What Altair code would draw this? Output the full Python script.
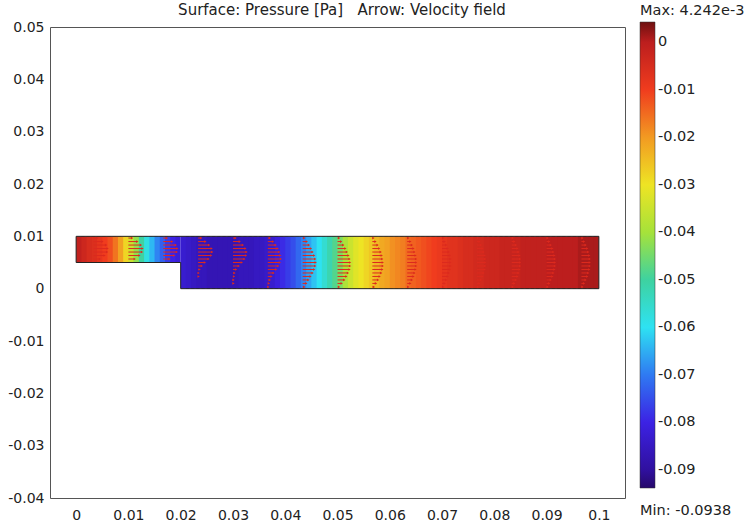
import altair as alt
import pandas as pd

FONT = "DejaVu Sans"
title_text = "Surface: Pressure [Pa]\u00a0\u00a0 Arrow: Velocity field"
max_label = "Max: 4.242e-3"
min_label = "Min: -0.0938"

# axis ticks
x_ticks = [0, 0.01, 0.02, 0.03, 0.04, 0.05, 0.06, 0.07, 0.08, 0.09, 0.1]
y_ticks = [-0.04, -0.03, -0.02, -0.01, 0, 0.01, 0.02, 0.03, 0.04, 0.05]

# colour scale (pressure, Pa) -> rainbow colours
color_stops = [-0.0938, -0.09, -0.08, -0.07, -0.06, -0.05, -0.04, -0.03, -0.02, -0.01, 0.0, 0.004242]
color_range = ["#26086a", "#30109f", "#3c22e4", "#2f7af2", "#2ee2f2", "#3ed2a0",
               "#a6e23a", "#eee424", "#f29a22", "#f03c1e", "#bc1e1e", "#6e1010"]
legend_values = [0, -0.01, -0.02, -0.03, -0.04, -0.05, -0.06, -0.07, -0.08, -0.09]

col_w = 0.001
# pressure along the inlet channel (x = 0 .. 0.02, columns 0.001 wide)
inlet_p = [-0.001, -0.003, -0.005, -0.006, -0.008, -0.010, -0.012, -0.016, -0.021, -0.028,
           -0.035, -0.042, -0.050, -0.058, -0.064, -0.069, -0.073, -0.077, -0.080, -0.082]
# pressure along the main channel (x = 0.02 .. 0.1, columns 0.001 wide)
main_p = [-0.083, -0.084, -0.085, -0.086, -0.086, -0.087, -0.087, -0.087, -0.087, -0.087,
          -0.087, -0.086, -0.086, -0.086, -0.085, -0.085, -0.084, -0.083, -0.081, -0.079,
          -0.077, -0.075, -0.072, -0.069, -0.066, -0.063, -0.060, -0.056, -0.052, -0.048,
          -0.044, -0.039, -0.035, -0.032, -0.030, -0.028, -0.026, -0.024, -0.022, -0.021,
          -0.019, -0.018, -0.017, -0.015, -0.014, -0.013, -0.012, -0.011, -0.010, -0.009,
          -0.008, -0.007, -0.007, -0.006, -0.005, -0.005, -0.004, -0.004, -0.003, -0.003,
          -0.003, -0.002, -0.002, -0.002, -0.002, -0.001, -0.001, -0.001, -0.001, -0.001,
          0.000, 0.000, 0.000, 0.000, 0.000, 0.000, 0.001, 0.001, 0.001, 0.001]

# geometry outline (backward-facing step)
outline_x = [0, 0, 0.1, 0.1, 0.02, 0.02, 0]
outline_y = [0.005, 0.01, 0.01, 0, 0, 0.005, 0.005]

# velocity arrows: 15 columns x 15 rows, lengths in mm (x1e-3 m), bottom to top
arrow_cols = [(k + 0.5) / 15 * 0.1 for k in range(15)]
arrow_rows = [(k + 0.5) / 15 * 0.01 for k in range(15)]
inlet_profile = [1.2, 2.1, 2.6, 2.7, 2.4, 1.7, 0.7]          # rows 8..14
prof_c3 = [0.0, 0.0, 0.0, 0.1, 0.1, 0.3, 0.7, 1.3, 2.0, 2.5, 2.7, 2.6, 2.1, 1.4, 0.6]
prof_c4 = [0.0, 0.1, 0.1, 0.2, 0.3, 0.6, 1.1, 1.7, 2.2, 2.5, 2.6, 2.4, 1.9, 1.3, 0.5]
prof_c5 = [0.1, 0.2, 0.4, 0.7, 1.1, 1.6, 2.0, 2.3, 2.5, 2.4, 2.2, 1.9, 1.5, 1.0, 0.4]
prof_c6 = [0.3, 0.7, 1.1, 1.5, 1.9, 2.2, 2.4, 2.5, 2.4, 2.2, 1.9, 1.6, 1.2, 0.8, 0.3]
prof_c7 = [0.3, 0.8, 1.3, 1.7, 2.0, 2.3, 2.4, 2.4, 2.3, 2.1, 1.8, 1.5, 1.1, 0.7, 0.3]
prof_c8 = [0.3, 0.7, 1.1, 1.4, 1.7, 1.9, 2.0, 2.0, 1.9, 1.8, 1.6, 1.3, 1.0, 0.6, 0.2]
prof_c9 = [0.2, 0.6, 0.9, 1.2, 1.4, 1.6, 1.7, 1.7, 1.7, 1.6, 1.4, 1.2, 0.9, 0.6, 0.2]
prof_dev = [0.2, 0.5, 0.8, 1.1, 1.3, 1.5, 1.6, 1.6, 1.6, 1.5, 1.3, 1.1, 0.8, 0.5, 0.2]
profiles = [inlet_profile, inlet_profile, inlet_profile, prof_c3, prof_c4, prof_c5,
            prof_c6, prof_c7, prof_c8, prof_c9, prof_dev, prof_dev, prof_dev, prof_dev, prof_dev]

# ---------- tables ----------
field_rows = []
for i, p in enumerate(inlet_p):
    x0 = i * col_w
    field_rows.append({"x0": x0, "x1": min(x0 + 1.6 * col_w, 0.02), "y0": 0.005, "y1": 0.01, "p": p})
for i, p in enumerate(main_p):
    x0 = 0.02 + i * col_w
    field_rows.append({"x0": x0, "x1": min(x0 + 1.6 * col_w, 0.1), "y0": 0.0, "y1": 0.01, "p": p})
field = pd.DataFrame(field_rows)

arrow_rows_data = []
for c, prof in enumerate(profiles):
    rows = arrow_rows[15 - len(prof):]
    for y, L in zip(rows, prof):
        if L > 0:
            arrow_rows_data.append({"x": arrow_cols[c], "xe": arrow_cols[c] + L * 1e-3, "y": y})
arrows = pd.DataFrame(arrow_rows_data)

outline = pd.DataFrame({"x": outline_x, "y": outline_y, "i": list(range(len(outline_x)))})

label_expr = "replace(format(datum.value, '.2~f'), '\u2212', '-')"

xs = alt.Scale(domain=[-0.005, 0.105], nice=False, zero=False)
ys = alt.Scale(domain=[-0.04, 0.05], nice=False, zero=False)
x_axis = alt.Axis(values=x_ticks, labelExpr=label_expr, title=None, grid=False, domain=False,
                  ticks=False, labelPadding=10, labelFontSize=14, labelFont=FONT, labelColor="#222")
y_axis = alt.Axis(values=y_ticks, labelExpr=label_expr, title=None, grid=False, domain=False,
                  ticks=False, labelPadding=6, labelFontSize=14, labelFont=FONT, labelColor="#222")

cscale = alt.Scale(type="linear", domain=color_stops, range=color_range, interpolate="rgb")

surface = alt.Chart(field).mark_rect().encode(
    x=alt.X("x0:Q", scale=xs, axis=x_axis),
    x2="x1:Q",
    y=alt.Y("y0:Q", scale=ys, axis=y_axis),
    y2="y1:Q",
    color=alt.Color("p:Q", scale=cscale, legend=alt.Legend(
        type="gradient", orient="none", legendX=590, legendY=-23.5, direction="vertical",
        gradientLength=466, gradientThickness=15, title=max_label,
        titleFont=FONT, titleFontSize=14.5, titleFontWeight="normal", titleColor="#222",
        titlePadding=4, labelFont=FONT, labelFontSize=14.5, labelColor="#222", labelOffset=3,
        values=legend_values, labelExpr=label_expr, labelOverlap=False,
        gradientStrokeColor="#333", gradientStrokeWidth=0.5, padding=0)),
)

shafts = alt.Chart(arrows).mark_rule(color="#dc2a1e", strokeWidth=1).encode(
    x="x:Q", x2="xe:Q", y="y:Q")
heads = alt.Chart(arrows).mark_point(shape="triangle-right", filled=True, size=7,
                                     color="#dc2a1e", opacity=1).encode(x="xe:Q", y="y:Q")

border = alt.Chart(outline).mark_line(color="#222", strokeWidth=1).encode(
    x="x:Q", y="y:Q", order="i:Q")

min_text = alt.Chart(pd.DataFrame({"t": [min_label]})).mark_text(
    align="left", baseline="middle", font=FONT, fontSize=14.5, color="#222").encode(
    x=alt.value(590), y=alt.value(484), text="t:N")

title_mark = alt.Chart(pd.DataFrame({"t": [title_text]})).mark_text(
    align="center", baseline="middle", font=FONT, fontSize=15, color="#222").encode(
    x=alt.value(292), y=alt.value(-17), text="t:N")

chart = alt.layer(surface, shafts, heads, border, min_text, title_mark).properties(
    width=575, height=471,
    autosize=alt.AutoSizeParams(type="none"),
    padding={"left": 50, "top": 27, "right": 124, "bottom": 26},
).configure_view(stroke="#555", strokeWidth=1)

chart.save("out.html", embed_options={"renderer": "svg", "actions": False})
